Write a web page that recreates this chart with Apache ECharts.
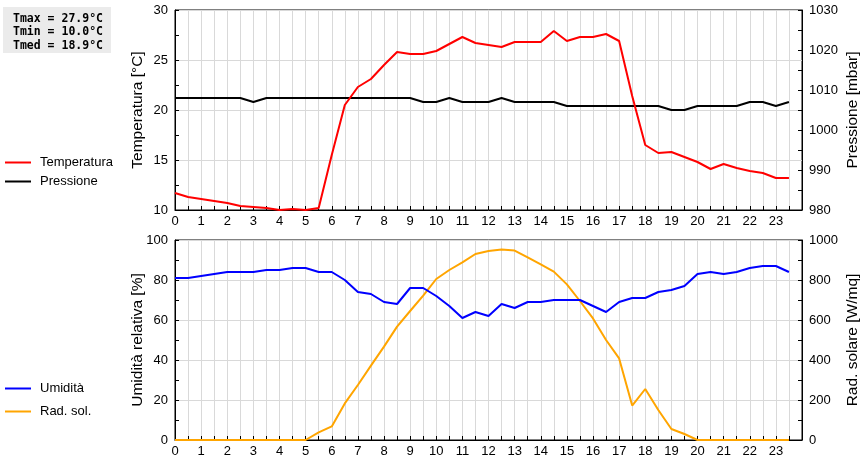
<!DOCTYPE html>
<html>
<head>
<meta charset="utf-8">
<script src="https://cdn.jsdelivr.net/npm/echarts@6/dist/echarts.min.js"></script>
<style>
  html, body { margin: 0; padding: 0; background: #fff; }
  #chart { width: 860px; height: 460px; }
</style>
</head>
<body>
<div id="chart"></div>
<script>
// ore (ogni mezz'ora)
var ore = [0, 0.5, 1, 1.5, 2, 2.5, 3, 3.5, 4, 4.5, 5, 5.5, 6, 6.5, 7, 7.5, 8, 8.5, 9, 9.5,
    10, 10.5, 11, 11.5, 12, 12.5, 13, 13.5, 14, 14.5, 15, 15.5, 16, 16.5, 17, 17.5, 18, 18.5, 19, 19.5,
    20, 20.5, 21, 21.5, 22, 22.5, 23, 23.5];

var temperatura = [11.7, 11.3, 11.1, 10.9, 10.7, 10.4, 10.3, 10.2, 10.0, 10.1, 10.0, 10.2, 15.5, 20.5, 22.3, 23.1,
    24.5, 25.8, 25.6, 25.6, 25.9, 26.6, 27.3, 26.7, 26.5, 26.3, 26.8, 26.8, 26.8, 27.9, 26.9, 27.3,
    27.3, 27.6, 26.9, 21.4, 16.5, 15.7, 15.8, 15.3, 14.8, 14.1, 14.6, 14.2, 13.9, 13.7, 13.2, 13.2];

var pressione = [1008, 1008, 1008, 1008, 1008, 1008, 1007, 1008, 1008, 1008, 1008, 1008, 1008, 1008, 1008, 1008,
    1008, 1008, 1008, 1007, 1007, 1008, 1007, 1007, 1007, 1008, 1007, 1007, 1007, 1007, 1006, 1006,
    1006, 1006, 1006, 1006, 1006, 1006, 1005, 1005, 1006, 1006, 1006, 1006, 1007, 1007, 1006, 1007];

var umidita = [81, 81, 82, 83, 84, 84, 84, 85, 85, 86, 86, 84, 84, 80, 74, 73,
    69, 68, 76, 76, 72, 67, 61, 64, 62, 68, 66, 69, 69, 70, 70, 70,
    67, 64, 69, 71, 71, 74, 75, 77, 83, 84, 83, 84, 86, 87, 87, 84];

var radSolare = [0, 0, 0, 0, 0, 0, 0, 0, 0, 0, 0, 38, 68, 183, 275, 372,
    467, 567, 645, 722, 805, 850, 888, 930, 945, 953, 947, 913, 878, 842, 778, 695,
    608, 500, 408, 172, 255, 150, 55, 30, 0, 0, 0, 0, 0, 0, 0, 0];

var statistiche = ['Tmax = 27.9°C', 'Tmin = 10.0°C', 'Tmed = 18.9°C'];

function coppie(valori) {
    var out = [];
    for (var i = 0; i < valori.length; i++) {
        out.push([ore[i], valori[i]]);
    }
    return out;
}

var chart = echarts.init(document.getElementById('chart'));

var font = 'Liberation Sans, Arial, sans-serif';
var iconaLinea = 'path://M0,0L26,0L26,2L0,2Z';

function asseX(gridIndex) {
    return {
        type: 'value',
        gridIndex: gridIndex,
        min: 0,
        max: 24,
        interval: 0.5,
        axisLine: { lineStyle: { color: '#000', width: 1 } },
        axisTick: { show: true, inside: true, length: 4, lineStyle: { color: '#000' } },
        axisLabel: {
            color: '#000', fontFamily: font, fontSize: 13, margin: 5,
            showMaxLabel: false,
            formatter: function (v) { return (v % 1 === 0 && v < 24) ? String(v) : ''; }
        },
        splitLine: { show: true, lineStyle: { color: '#d9d9d9', width: 1 } }
    };
}

function asseY(gridIndex, nome, min, max, interval, position, gap, grid) {
    return {
        type: 'value',
        gridIndex: gridIndex,
        position: position,
        name: nome,
        nameLocation: 'middle',
        nameGap: gap,
        nameMoveOverlap: false,
        nameTextStyle: { color: '#000', fontFamily: font, fontSize: 15.5 },
        min: min,
        max: max,
        interval: interval,
        axisLine: { show: true, lineStyle: { color: '#000', width: 1 } },
        axisTick: { show: true, inside: true, length: 4, lineStyle: { color: '#000' } },
        minorTick: { show: true, splitNumber: 2, length: 4, lineStyle: { color: '#000' } },
        axisLabel: {
            color: '#000', fontFamily: font, fontSize: 13, margin: 7,
            formatter: function (v) { return String(v); }
        },
        splitLine: { show: grid, lineStyle: { color: '#d9d9d9', width: 1 } }
    };
}

function legenda(nomi, top, gap) {
    return {
        data: nomi,
        orient: 'vertical', left: 5, top: top, padding: 0,
        icon: iconaLinea,
        itemWidth: 26, itemHeight: 12, itemGap: gap,
        textStyle: { color: '#000', fontFamily: font, fontSize: 13, padding: [0, 0, 0, 4] },
        selectedMode: false
    };
}

var option = {
    animation: false,
    backgroundColor: '#fff',
    grid: [
        { left: 175, right: 58, top: 10, height: 200, outerBoundsMode: 'none', containLabel: false,
          show: true, borderColor: '#000', borderWidth: 1, backgroundColor: 'transparent' },
        { left: 175, right: 58, top: 240, height: 200, outerBoundsMode: 'none', containLabel: false,
          show: true, borderColor: '#000', borderWidth: 1, backgroundColor: 'transparent' }
    ],
    legend: [
        legenda(['Temperatura', 'Pressione'], 156, 6),
        legenda(['Umidità', 'Rad. sol.'], 382, 10)
    ],
    xAxis: [asseX(0), asseX(1)],
    yAxis: [
        asseY(0, 'Temperatura [°C]', 10, 30, 5, 'left', 29, true),
        asseY(0, 'Pressione [mbar]', 980, 1030, 10, 'right', 43, false),
        asseY(1, 'Umidità relativa [%]', 0, 100, 20, 'left', 29, true),
        asseY(1, 'Rad. solare [W/mq]', 0, 1000, 200, 'right', 43, false)
    ],
    graphic: [
        {
            type: 'group', left: 3, top: 7,
            children: [
                { type: 'rect', shape: { x: 0, y: 0, width: 108, height: 46 }, style: { fill: '#ebebeb' } },
                {
                    type: 'text', x: 10, y: 5,
                    style: {
                        text: statistiche.join('\n'),
                        fontFamily: 'DejaVu Sans Mono, monospace',
                        fontWeight: 'bold', fontSize: 11.5, lineHeight: 13.5, fill: '#000'
                    }
                }
            ]
        }
    ],
    series: [
        {
            name: 'Temperatura', type: 'line', xAxisIndex: 0, yAxisIndex: 0,
            data: coppie(temperatura), symbol: 'none', color: '#ff0000',
            lineStyle: { color: '#ff0000', width: 2 }, z: 3
        },
        {
            name: 'Pressione', type: 'line', xAxisIndex: 0, yAxisIndex: 1,
            data: coppie(pressione), symbol: 'none', color: '#000',
            lineStyle: { color: '#000', width: 2 }, z: 2
        },
        {
            name: 'Umidità', type: 'line', xAxisIndex: 1, yAxisIndex: 2,
            data: coppie(umidita), symbol: 'none', color: '#0000ff',
            lineStyle: { color: '#0000ff', width: 2 }, z: 3
        },
        {
            name: 'Rad. sol.', type: 'line', xAxisIndex: 1, yAxisIndex: 3,
            data: coppie(radSolare), symbol: 'none', color: '#ffa500',
            lineStyle: { color: '#ffa500', width: 2 }, z: 2
        }
    ]
};

chart.setOption(option);
window.addEventListener('resize', function () {
    chart.resize();
});
</script>
</body>
</html>
